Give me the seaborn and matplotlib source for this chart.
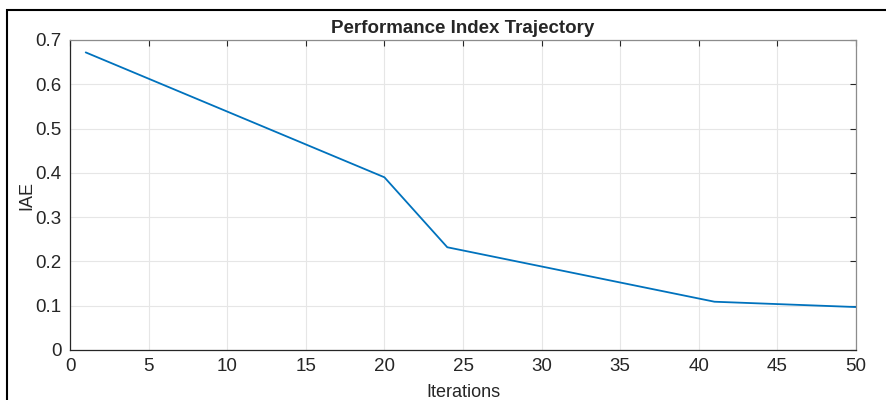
import matplotlib.pyplot as plt
import matplotlib.patches as patches
import pandas as pd
import seaborn as sns

# breakpoints of the trajectory
iterations = [1, 20, 24, 41, 50]
iae = [0.672, 0.390, 0.232, 0.109, 0.097]

x_ticks = list(range(0, 51, 5))
y_ticks = [0, 0.1, 0.2, 0.3, 0.4, 0.5, 0.6, 0.7]


def main():
    sns.set_style('white')
    plt.rcParams['font.family'] = ['Liberation Sans', 'DejaVu Sans']

    df = pd.DataFrame({'Iterations': iterations, 'IAE': iae})

    fig = plt.figure(figsize=(8.86, 4.0), dpi=100)
    ax = fig.add_axes([70 / 886, 1 - 350 / 400, 786 / 886, 310 / 400])

    sns.lineplot(data=df, x='Iterations', y='IAE', ax=ax, color='#0072BD', linewidth=1.3)

    ax.set_xlim(0, 50)
    ax.set_ylim(0, 0.7)
    ax.set_xticks(x_ticks)
    ax.set_yticks(y_ticks)
    ax.set_yticklabels(['0', '0.1', '0.2', '0.3', '0.4', '0.5', '0.6', '0.7'])
    ax.grid(True, color='#e6e6e6', linewidth=0.8)
    ax.tick_params(direction='in', length=4, labelsize=13.5, colors='#262626',
                   top=True, right=True)
    ax.tick_params(axis='x', pad=6)
    ax.tick_params(axis='y', pad=6)
    for side in ['left', 'bottom']:
        ax.spines[side].set_color('#262626')
        ax.spines[side].set_linewidth(0.9)
    for side in ['top', 'right']:
        ax.spines[side].set_color('#8c8c8c')
        ax.spines[side].set_linewidth(0.9)

    ax.set_xlabel('Iterations', fontsize=13, color='#262626', labelpad=6)
    ax.set_ylabel('IAE', fontsize=13, color='#262626', labelpad=0)
    ax.set_title('Performance Index Trajectory', fontsize=13.5, fontweight='bold', pad=5)

    # outer frame around the figure (cut off on the right and bottom)
    frame = patches.Rectangle((7 / 886, -0.05), 1.0, 1.05 - 10 / 400,
                              transform=fig.transFigure, fill=False,
                              edgecolor='black', linewidth=1.5, clip_on=False)
    fig.patches.append(frame)

    fig.savefig('out.png', dpi=100)


if __name__ == '__main__':
    main()
